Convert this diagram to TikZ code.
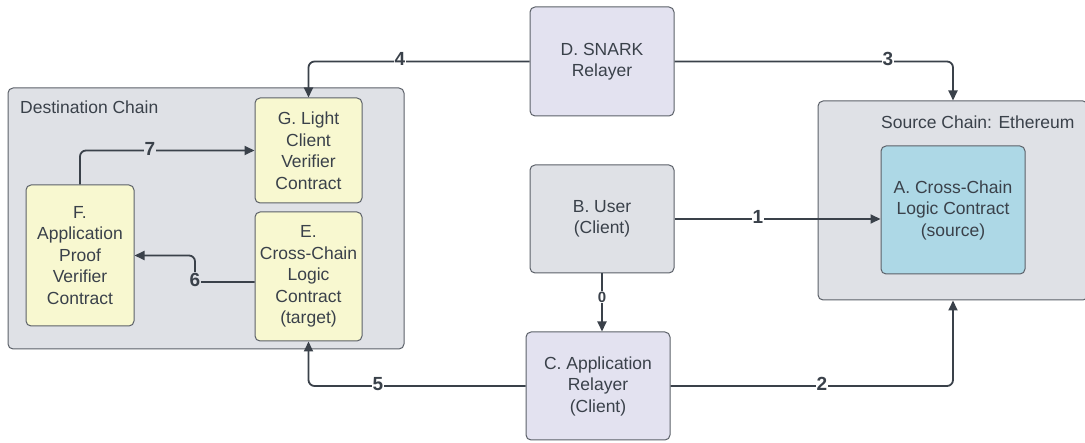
\documentclass[tikz,border=0pt]{standalone}
\usepackage{fontspec}
\setmainfont{Liberation Sans}
\usetikzlibrary{arrows.meta}
\definecolor{ink}{HTML}{3A414A}
\definecolor{rim}{HTML}{5C6169}
\definecolor{panel}{HTML}{DFE1E6}
\definecolor{lav}{HTML}{E3E2F0}
\definecolor{pale}{HTML}{F8F8D0}
\definecolor{sky}{HTML}{ADD8E6}
\begin{document}
\begin{tikzpicture}[x=1pt,y=-1pt,
  box/.style={draw=rim, line width=1pt, rounded corners=5pt, text=ink,
    font=\fontsize{17.5}{21.5}\selectfont, align=center, inner sep=0pt},
  chain/.style={box, fill=panel},
  contract/.style={box, fill=pale},
  actor/.style={box, fill=lav},
  flow/.style={draw=ink, line width=1.8pt, rounded corners=6pt,
    -{Triangle[length=10pt,width=9pt]}},
  lbl/.style={font=\bfseries\fontsize{19}{19}\selectfont, text=ink,
    inner sep=1pt, fill=white},
  title/.style={text=ink, font=\fontsize{17.5}{20}\selectfont, inner sep=0pt}]
\useasboundingbox (0,0) rectangle (1085,443);

% chains
\node[chain, minimum width=396pt, minimum height=261pt] (dest) at (206,218.5) {};
\node[title, anchor=west] (destT) at (20,107) {Destination Chain};
\node[chain, minimum width=270pt, minimum height=199pt] (src) at (953,200.5) {};
\node[title, anchor=west] (srcT) at (881,122) {Source Chain: Ethereum};

% contracts
\node[contract, minimum width=107pt, minimum height=105pt] (G) at (308.5,150.5)
  {G. Light\\Client\\Verifier\\Contract};
\node[contract, minimum width=107pt, minimum height=129pt] (E) at (308.5,276.5)
  {E.\\Cross-Chain\\Logic\\Contract\\(target)};
\node[contract, minimum width=108pt, minimum height=141pt] (F) at (80,255.5)
  {F.\\Application\\Proof\\Verifier\\Contract};
\node[box, fill=sky, minimum width=144pt, minimum height=128pt] (A) at (953,210)
  {A. Cross-Chain\\Logic Contract\\(source)};

% off-chain actors
\node[actor, minimum width=144pt, minimum height=109pt] (D) at (602,61.5)
  {D. SNARK\\Relayer};
\node[chain, minimum width=144pt, minimum height=108pt] (B) at (602,219)
  {B. User\\(Client)};
\node[actor, minimum width=144pt, minimum height=108pt] (C) at (598,386)
  {C. Application\\Relayer\\(Client)};

% flows
\coordinate (k6) at (195,282);
\draw[flow] (D.west) -| (G.north);
\draw[flow] (D.east) -| (src.north);
\draw[flow] (B.east) -- (B.east -| A.west);
\draw[flow] (B.south) -- (B.south |- C.north);
\draw[flow] (C.east) -| (src.south);
\draw[flow] (C.west) -| (E.south);
\draw[flow] (F.north) |- (G.west);
\draw[flow] (E.west |- k6) -- (k6) |- (F.east);

% step numbers
\node[lbl] (n4) at (400,59) {4};
\node[lbl] (n3) at (888,59) {3};
\node[lbl] (n1) at (758,217) {1};
\node[lbl, font=\bfseries\fontsize{15}{15}\selectfont] (n0) at (602,297) {0};
\node[lbl] (n2) at (822,384) {2};
\node[lbl] (n5) at (378,384) {5};
\node[lbl, fill=panel] (n7) at (150,149) {7};
\node[lbl, fill=panel] (n6) at (195,280) {6};
\end{tikzpicture}
\end{document}
